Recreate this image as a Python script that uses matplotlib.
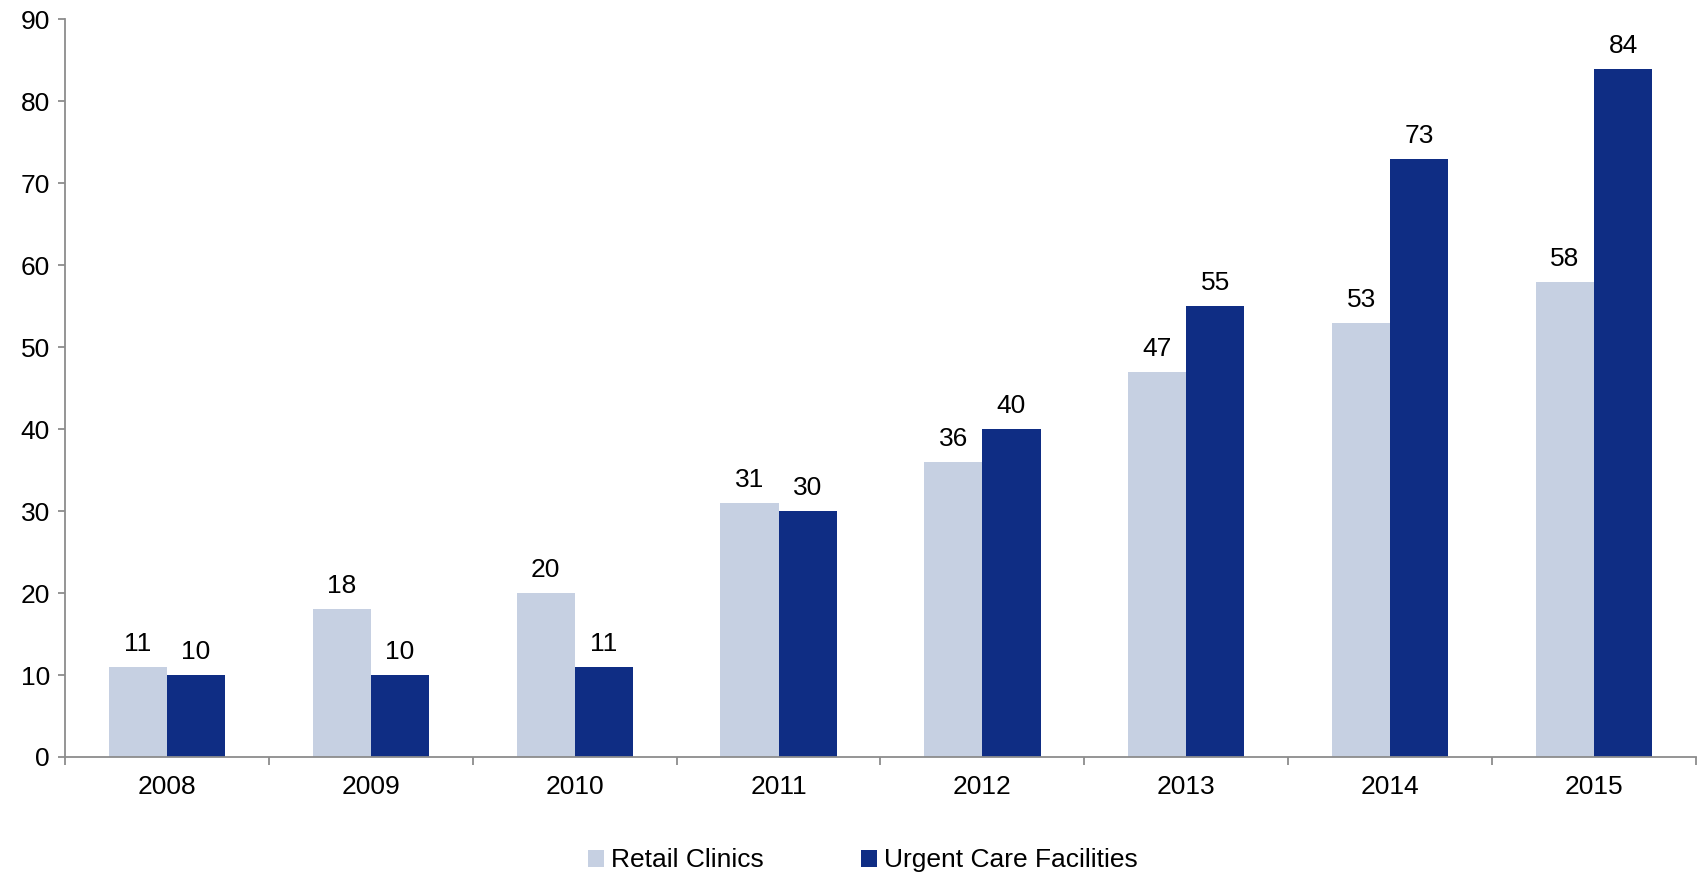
import matplotlib
matplotlib.use("Agg")
import matplotlib.pyplot as plt
import numpy as np
from matplotlib.patches import Patch

plt.rcParams['font.family'] = ['Liberation Sans', 'DejaVu Sans']

years = ["2008", "2009", "2010", "2011", "2012", "2013", "2014", "2015"]
retail_clinics = [11, 18, 20, 31, 36, 47, 53, 58]
urgent_care = [10, 10, 11, 30, 40, 55, 73, 84]

c_retail = "#C6D0E2"
c_urgent = "#0F2D84"
axis_gray = "#8C8C8C"
fs = 19

fig = plt.figure(figsize=(16.98, 8.74), dpi=100)
ax = fig.add_axes([0.0383, 0.1339, 0.9605, 0.8438])

x = np.arange(len(years))
w = 0.285
b1 = ax.bar(x - w / 2, retail_clinics, w, color=c_retail, linewidth=0)
b2 = ax.bar(x + w / 2, urgent_care, w, color=c_urgent, linewidth=0)

for bars, vals in ((b1, retail_clinics), (b2, urgent_care)):
    for bar, v in zip(bars, vals):
        ax.annotate(f"{v}", (bar.get_x() + bar.get_width() / 2, v),
                    xytext=(0, 8), textcoords="offset points",
                    ha="center", va="bottom", fontsize=fs, color="black")

ax.set_xlim(-0.5, len(years) - 0.5)
ax.set_ylim(0, 90)
ax.set_yticks(range(0, 91, 10))
ax.tick_params(axis="y", length=5, width=1.3, color=axis_gray, labelsize=fs, pad=6)

# category labels centred, ticks at category boundaries
ax.set_xticks(x)
ax.set_xticklabels(years)
ax.tick_params(axis="x", length=0, labelsize=fs, pad=13)
ax.set_xticks(np.arange(len(years) + 1) - 0.5, minor=True)
ax.tick_params(axis="x", which="minor", length=6, width=1.3, color=axis_gray)

for side in ("top", "right"):
    ax.spines[side].set_visible(False)
for side in ("left", "bottom"):
    ax.spines[side].set_color(axis_gray)
    ax.spines[side].set_linewidth(1.3)

handles = [Patch(facecolor=c_retail, label="Retail Clinics"),
           Patch(facecolor=c_urgent, label="Urgent Care Facilities")]
fig.legend(handles=handles, loc="center", bbox_to_anchor=(0.508, 0.0155),
           ncol=2, frameon=False, fontsize=fs, handlelength=0.62,
           handleheight=0.62, handletextpad=0.25, columnspacing=3.7)

fig.savefig("out.png", dpi=100)
